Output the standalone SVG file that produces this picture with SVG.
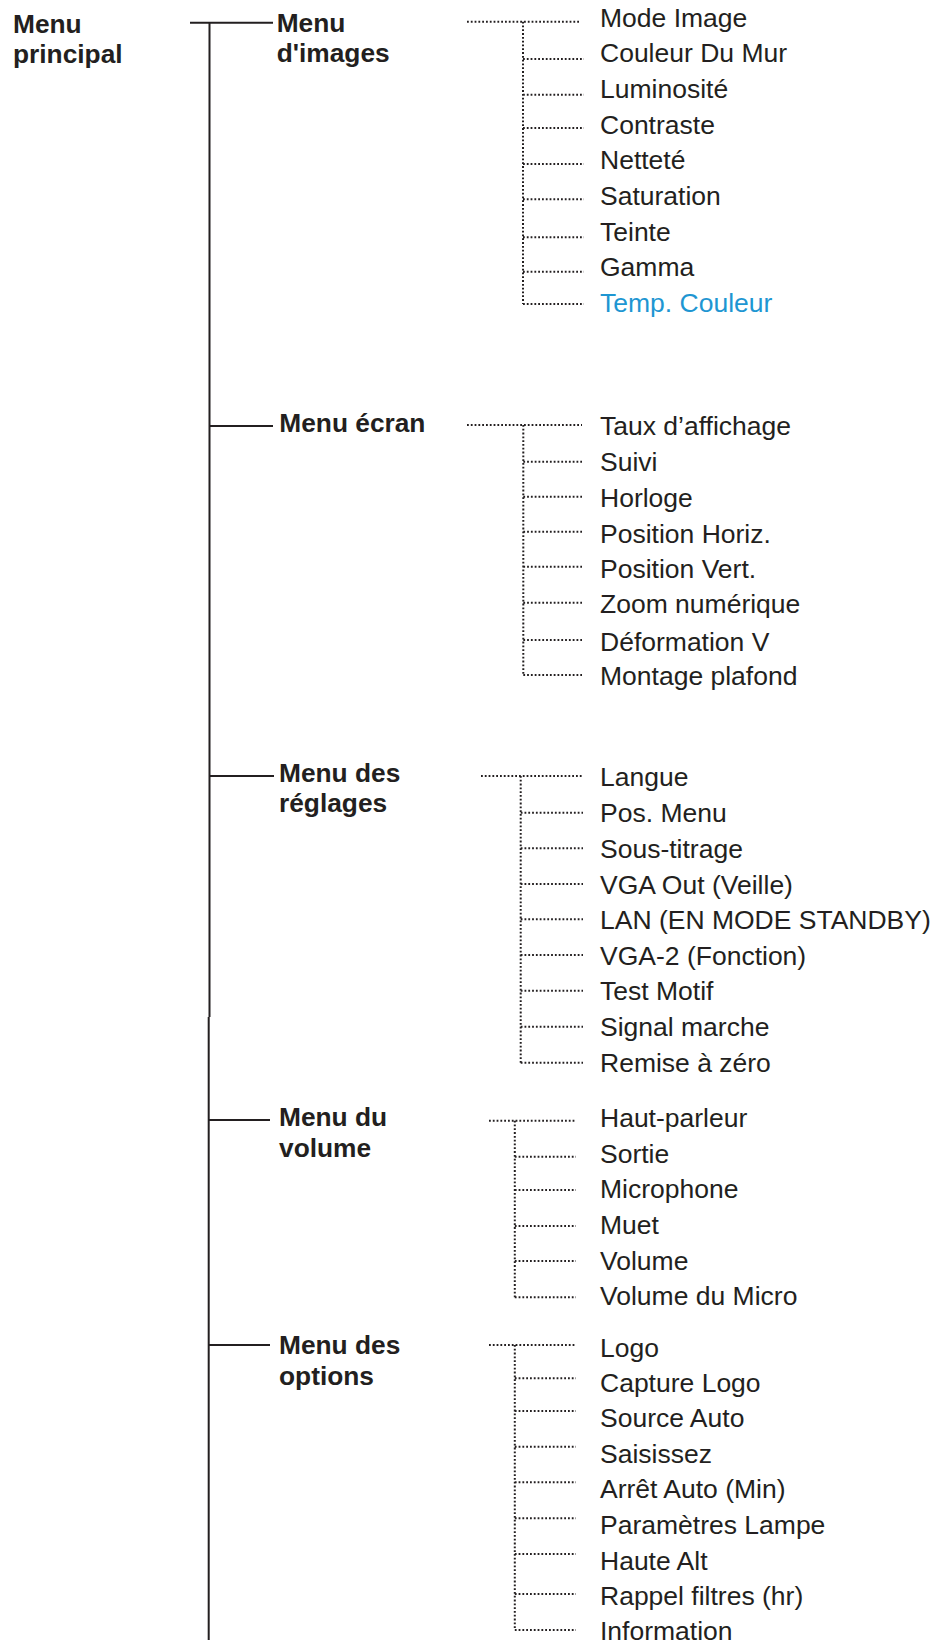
<svg xmlns="http://www.w3.org/2000/svg" width="935" height="1646" viewBox="0 0 935 1646">
  <style>
    .hdr { font-family: "Liberation Sans", Arial, sans-serif; font-weight: bold; font-size: 26.3px; fill: #231F20; }
    .item { font-family: "Liberation Sans", Arial, sans-serif; font-size: 26.5px; fill: #231F20; }
    .item.hl { fill: #1E96D2; }
    .solid { stroke: #231F20; stroke-width: 2; fill: none; }
    .dot { stroke: #231F20; stroke-width: 2; fill: none; stroke-dasharray: 1.8 2; }
  </style>
  <rect width="935" height="1646" fill="#FFFFFF"/>

  <!-- tree connectors -->
  <g id="connectors">
    <!-- main trunk -->
    <path class="solid" d="M190 22.7 H273 M209.5 22.7 V1017 M208.7 1017 V1640"/>
    <path class="solid" d="M209 426 H273 M209 776 H274 M209 1120 H270 M209 1345 H270"/>

    <!-- Menu d'images branches -->
    <path class="dot" d="M467 21.7 H580 M523 21.7 V304 M523 59 H584 M523 94.7 H584 M523 128 H584 M523 164 H584 M523 199.3 H584 M523 237.3 H584 M523 271.7 H584 M523 304 H584"/>
    <!-- Menu écran branches -->
    <path class="dot" d="M467 425 H582 M523.3 425 V675 M523.3 461.7 H582 M523.3 496.7 H582 M523.3 531.7 H582 M523.3 566.7 H582 M523.3 602.7 H582 M523.3 640 H582 M523.3 675 H582"/>
    <!-- Menu des réglages branches -->
    <path class="dot" d="M481 776 H583 M520.7 776 V1062.7 M520.7 812.7 H583 M520.7 848.3 H583 M520.7 884 H583 M520.7 919.3 H583 M520.7 955 H583 M520.7 990.7 H583 M520.7 1026.7 H583 M520.7 1062.7 H583"/>
    <!-- Menu du volume branches -->
    <path class="dot" d="M489 1120.7 H576 M514.8 1120.7 V1297.3 M514.8 1156.7 H576 M514.8 1190 H576 M514.8 1226 H576 M514.8 1261 H576 M514.8 1297.3 H576"/>
    <!-- Menu des options branches -->
    <path class="dot" d="M489 1345 H576 M514.8 1345 V1630 M514.8 1378.3 H576 M514.8 1411 H576 M514.8 1446.7 H576 M514.8 1482.3 H576 M514.8 1518.3 H576 M514.8 1554 H576 M514.8 1594 H576 M514.8 1630 H576"/>
  </g>

  <!-- root -->
  <g id="menu-principal">
    <text class="hdr" x="13" y="32.5">Menu</text>
    <text class="hdr" x="13" y="63">principal</text>
  </g>

  <!-- sub menus -->
  <g id="menu-images">
    <text class="hdr" x="276.7" y="31.7">Menu</text>
    <text class="hdr" x="276.7" y="62.3">d'images</text>
  </g>
  <g id="menu-ecran">
    <text class="hdr" x="279.3" y="431.7">Menu écran</text>
  </g>
  <g id="menu-reglages">
    <text class="hdr" x="279" y="781.7">Menu des</text>
    <text class="hdr" x="279" y="811.7">réglages</text>
  </g>
  <g id="menu-volume">
    <text class="hdr" x="279" y="1126">Menu du</text>
    <text class="hdr" x="279" y="1157.3">volume</text>
  </g>
  <g id="menu-options">
    <text class="hdr" x="279" y="1354">Menu des</text>
    <text class="hdr" x="279" y="1385">options</text>
  </g>

  <!-- items: Menu d'images -->
  <g id="items-images">
    <text class="item" x="600" y="26.7">Mode Image</text>
    <text class="item" x="600" y="62.3">Couleur Du Mur</text>
    <text class="item" x="600" y="98">Luminosité</text>
    <text class="item" x="600" y="133.5">Contraste</text>
    <text class="item" x="600" y="169.2">Netteté</text>
    <text class="item" x="600" y="204.8">Saturation</text>
    <text class="item" x="600" y="240.5">Teinte</text>
    <text class="item" x="600" y="276.1">Gamma</text>
    <text class="item hl" x="600" y="311.7">Temp. Couleur</text>
  </g>

  <!-- items: Menu écran -->
  <g id="items-ecran">
    <text class="item" x="600" y="435">Taux d’affichage</text>
    <text class="item" x="600" y="470.7">Suivi</text>
    <text class="item" x="600" y="506.7">Horloge</text>
    <text class="item" x="600" y="542.7">Position Horiz.</text>
    <text class="item" x="600" y="578.3">Position Vert.</text>
    <text class="item" x="600" y="613.3">Zoom numérique</text>
    <text class="item" x="600" y="650.7">Déformation V</text>
    <text class="item" x="600" y="685">Montage plafond</text>
  </g>

  <!-- items: Menu des réglages -->
  <g id="items-reglages">
    <text class="item" x="600" y="785.5">Langue</text>
    <text class="item" x="600" y="822.2">Pos. Menu</text>
    <text class="item" x="600" y="857.8">Sous-titrage</text>
    <text class="item" x="600" y="893.5">VGA Out (Veille)</text>
    <text class="item" x="600" y="928.8">LAN (EN MODE STANDBY)</text>
    <text class="item" x="600" y="964.5">VGA-2 (Fonction)</text>
    <text class="item" x="600" y="1000.2">Test Motif</text>
    <text class="item" x="600" y="1036.2">Signal marche</text>
    <text class="item" x="600" y="1071.5">Remise à zéro</text>
  </g>

  <!-- items: Menu du volume -->
  <g id="items-volume">
    <text class="item" x="600" y="1126.7">Haut-parleur</text>
    <text class="item" x="600" y="1162.7">Sortie</text>
    <text class="item" x="600" y="1198.3">Microphone</text>
    <text class="item" x="600" y="1234">Muet</text>
    <text class="item" x="600" y="1270">Volume</text>
    <text class="item" x="600" y="1305">Volume du Micro</text>
  </g>

  <!-- items: Menu des options -->
  <g id="items-options">
    <text class="item" x="600" y="1356.7">Logo</text>
    <text class="item" x="600" y="1391.7">Capture Logo</text>
    <text class="item" x="600" y="1427.3">Source Auto</text>
    <text class="item" x="600" y="1462.7">Saisissez</text>
    <text class="item" x="600" y="1498.3">Arrêt Auto (Min)</text>
    <text class="item" x="600" y="1534">Paramètres Lampe</text>
    <text class="item" x="600" y="1570">Haute Alt</text>
    <text class="item" x="600" y="1605">Rappel filtres (hr)</text>
    <text class="item" x="600" y="1640">Information</text>
  </g>
</svg>
